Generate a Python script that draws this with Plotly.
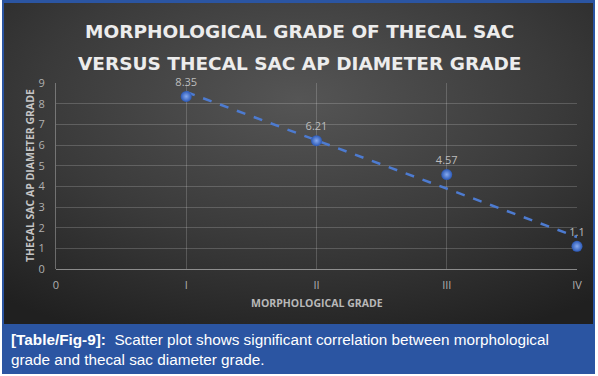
import base64
import numpy as np
import plotly.graph_objects as go

# ---- data ----
grade_pos = [1, 2, 3, 4]
ap_grade = [8.35, 6.21, 4.57, 1.1]
point_labels = ["8.35", "6.21", "4.57", "1.1"]
x_tick_vals = [0, 1, 2, 3, 4]
x_tick_text = ["0", "I", "II", "III", "IV"]
y_tick_vals = list(range(0, 10))

title_lines = ["MORPHOLOGICAL GRADE OF THECAL SAC", "VERSUS THECAL SAC AP DIAMETER GRADE"]
x_title = "MORPHOLOGICAL GRADE"
y_title = "THECAL SAC AP DIAMETER GRADE"
caption = ("<b>[Table/Fig-9]:</b>  Scatter plot shows significant correlation between morphological"
           "<br>grade and thecal sac diameter grade.")

# ---- layout geometry (pixels) ----
W, H = 598, 376
ML, MR, MT, MB = 56, 21, 83, 107
PW, PH = W - ML - MR, H - MT - MB


def px(x):
    return (x - ML) / PW


def py(y):
    return (H - MB - y) / PH


# linear trendline (least squares from the data)
slope, intercept = np.polyfit(grade_pos, ap_grade, 1)
trend_x = [grade_pos[0], grade_pos[-1]]
trend_y = [slope * v + intercept for v in trend_x]

fig = go.Figure()
fig.add_trace(go.Scatter(
    x=trend_x, y=trend_y, mode="lines",
    line=dict(color="#4d7bd0", width=2.5, dash="dash"),
    hoverinfo="skip", showlegend=False,
))
fig.add_trace(go.Scatter(
    x=grade_pos, y=ap_grade, mode="markers+text",
    text=point_labels, textposition="top center", cliponaxis=False,
    textfont=dict(family="Open Sans, sans-serif", size=11, color="#bdbdbd"),
    marker=dict(size=11, color="#2b58b5",
                gradient=dict(type="radial", color="#86aaf0"),
                line=dict(width=0)),
    showlegend=False,
))

# radial gradient background as an SVG image
svg = ('<svg xmlns="http://www.w3.org/2000/svg" width="589" height="322" viewBox="0 0 589 322" '
       'preserveAspectRatio="none"><defs><radialGradient id="g" cx="0.5" cy="0.3" r="0.8">'
       '<stop offset="0" stop-color="#555555"/><stop offset="0.55" stop-color="#3a3a3a"/>'
       '<stop offset="1" stop-color="#202020"/></radialGradient></defs>'
       '<rect width="589" height="322" fill="url(#g)"/></svg>')
src = "data:image/svg+xml;base64," + base64.b64encode(svg.encode()).decode()

# white page edges around the blue frame
shapes = [
    dict(type="rect", xref="paper", yref="paper", x0=px(0), x1=px(2), y0=py(H), y1=py(0),
         fillcolor="#ffffff", line=dict(width=0), layer="below"),
    dict(type="rect", xref="paper", yref="paper", x0=px(595), x1=px(W), y0=py(H), y1=py(0),
         fillcolor="#ffffff", line=dict(width=0), layer="below"),
    dict(type="rect", xref="paper", yref="paper", x0=px(0), x1=px(W), y0=py(H), y1=py(374),
         fillcolor="#ffffff", line=dict(width=0), layer="below"),
]

annotations = [
    dict(text=title_lines[0], x=px(299), y=py(31), xref="paper", yref="paper", showarrow=False,
         xanchor="center", yanchor="middle",
         font=dict(family="DejaVu Sans, sans-serif", size=18.5, color="#ececec", weight="bold")),
    dict(text=title_lines[1], x=px(299), y=py(63), xref="paper", yref="paper", showarrow=False,
         xanchor="center", yanchor="middle",
         font=dict(family="DejaVu Sans, sans-serif", size=18.5, color="#ececec", weight="bold")),
    dict(text=y_title, x=px(30), y=py(176), xref="paper", yref="paper", showarrow=False,
         textangle=-90, xanchor="center", yanchor="middle",
         font=dict(family="Open Sans, sans-serif", size=10.5, color="#c4c4c4", weight="bold")),
    dict(text=x_title, x=px(317), y=py(303), xref="paper", yref="paper", showarrow=False,
         xanchor="center", yanchor="middle",
         font=dict(family="Open Sans, sans-serif", size=10.5, color="#b8b8b8", weight="bold")),
    dict(text=caption, x=px(9), y=py(349), xref="paper", yref="paper", showarrow=False,
         xanchor="left", yanchor="middle", align="left",
         font=dict(family="Liberation Sans, Arial, sans-serif", size=15.3, color="#ffffff")),
]

fig.update_layout(
    width=W, height=H,
    margin=dict(l=ML, r=MR, t=MT, b=MB, pad=0),
    paper_bgcolor="#2b55a2", plot_bgcolor="rgba(0,0,0,0)",
    shapes=shapes, annotations=annotations,
    images=[dict(source=src, xref="paper", yref="paper", x=px(4), y=py(3),
                 sizex=px(593) - px(4), sizey=py(3) - py(324),
                 xanchor="left", yanchor="top", sizing="stretch", layer="below")],
    xaxis=dict(range=[0, 4], tickmode="array", tickvals=x_tick_vals, ticktext=x_tick_text,
               showgrid=True, gridcolor="rgba(255,255,255,0.18)", gridwidth=1,
               zeroline=False, showline=False, ticks="", ticklabelstandoff=8,
               tickfont=dict(family="Open Sans, sans-serif", size=11, color="#b0b0b0")),
    yaxis=dict(range=[0, 9], tickmode="array", tickvals=y_tick_vals,
               showgrid=True, gridcolor="rgba(255,255,255,0.18)", gridwidth=1,
               zeroline=True, zerolinecolor="rgba(255,255,255,0.45)", zerolinewidth=1,
               showline=True, linecolor="rgba(255,255,255,0.3)", linewidth=1, ticks="",
               ticklabelstandoff=8,
               tickfont=dict(family="Open Sans, sans-serif", size=11, color="#b0b0b0")),
)

fig.write_html("out.html", config={"displayModeBar": False},
               post_script="document.body.style.margin='0';")
